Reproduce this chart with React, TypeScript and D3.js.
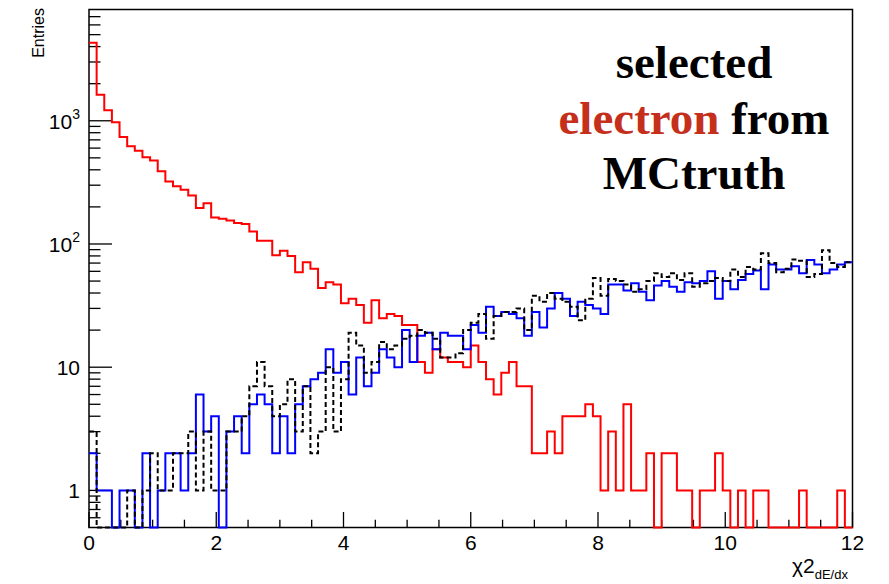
import React from "react";
import * as d3 from "d3";

// 100 bins of width 0.12 over 0..12
const binEdges: number[] = d3.range(101).map((i) => +(i * 0.12).toFixed(2));

// Red: selected electrons (MC truth electron)
const electronCounts: number[] = [
  4300, 1630, 1216, 971, 739, 621, 572, 505, 475, 389,
  322, 294, 276, 248, 196, 214, 164, 160, 155, 148,
  145, 126, 106, 106, 81, 88, 80, 59, 71, 63,
  44, 49, 47, 33, 36, 32, 23, 35, 25, 27,
  26, 22, 22, 11, 9, 14, 12, 11, 11, 10,
  15, 11, 8, 6, 9, 11, 7, 7, 2, 2,
  3, 2, 4, 4, 4, 5, 4, 1, 3, 1,
  5, 1, 1, 2, 0, 2, 2, 1, 1, 0,
  1, 1, 2, 1, 0, 1, 0, 1, 1, 0,
  0, 0, 0, 1, 0, 0, 0, 0, 1, 0,
];

// Blue
const blueCounts: number[] = [
  2, 1, 1, 0, 1, 1, 0, 2, 0, 1,
  2, 2, 1, 2, 6, 3, 4, 0, 3, 4,
  2, 5, 6, 5, 2, 4, 2, 5, 7, 8,
  9, 14, 9, 11, 6, 12, 7, 9, 14, 12,
  10, 20, 11, 18, 19, 14, 19, 18, 18, 14,
  22, 19, 31, 26, 28, 27, 25, 18, 28, 21,
  30, 40, 36, 26, 34, 32, 30, 27, 47, 47,
  42, 48, 41, 35, 46, 50, 45, 41, 49, 48,
  50, 60, 36, 50, 43, 51, 57, 61, 43, 68,
  62, 62, 66, 58, 74, 68, 58, 62, 68, 71,
];

// Black dashed
const blackCounts: number[] = [
  3, 0, 0, 0, 0, 1, 0, 1, 2, 1,
  1, 2, 2, 3, 1, 3, 1, 1, 3, 3,
  4, 7, 11, 7, 4, 5, 8, 3, 7, 2,
  3, 10, 3, 8, 19, 15, 9, 11, 16, 14,
  15, 17, 18, 20, 19, 17, 12, 12, 13, 20,
  23, 27, 17, 26, 28, 28, 30, 20, 38, 34,
  40, 36, 34, 31, 24, 36, 53, 38, 52, 50,
  47, 41, 43, 50, 58, 54, 58, 51, 58, 45,
  48, 50, 53, 50, 62, 54, 65, 62, 84, 70,
  59, 63, 75, 73, 54, 57, 89, 70, 65, 71,
];

const xTickLabels: number[] = [0, 2, 4, 6, 8, 10, 12];
const yMajorTicks: number[] = [1, 10, 100, 1000];

const FRAME = { left: 89, right: 852.5, top: 9.5, bottom: 527.5 };
const SANS = "'Liberation Sans', Arial, Helvetica, sans-serif";
const SERIF = "'Liberation Serif', 'Times New Roman', Times, serif";

export default function App() {
  const x = d3.scaleLinear().domain([0, 12]).range([FRAME.left, FRAME.right]);
  const y = d3.scaleLog().domain([0.5, 8000]).range([FRAME.bottom, FRAME.top]);
  const yv = (v: number) => y(Math.max(v, 0.5));

  const histPath = (vals: number[]) => {
    let d = `M${x(binEdges[0])},${yv(vals[0])}`;
    vals.forEach((v, i) => {
      d += `V${yv(v)}H${x(binEdges[i + 1])}`;
    });
    return d;
  };

  const xMinor = d3.range(0, 12.001, 0.5).filter((t) => Math.abs(t / 2 - Math.round(t / 2)) > 1e-6);
  const yMinor: number[] = [];
  [0.1, 1, 10, 100, 1000].forEach((dec) => {
    for (let k = 2; k <= 9; k++) {
      const v = k * dec;
      if (v > 0.5 && v < 8000) yMinor.push(v);
    }
  });

  const majorLenY = 23;
  const minorLenY = 11.5;
  const majorLenX = 15.5;
  const minorLenX = 7.8;

  return (
    <svg
      width={889}
      height={584}
      style={{ position: "absolute", left: 0, top: 0, background: "#fff" }}
    >
      <rect x={0} y={0} width={889} height={584} fill="#fff" />
      {/* frame */}
      <rect
        x={FRAME.left}
        y={FRAME.top}
        width={FRAME.right - FRAME.left}
        height={FRAME.bottom - FRAME.top}
        fill="none"
        stroke="#000"
        strokeWidth={1.5}
      />
      {/* x ticks */}
      {xTickLabels.map((t) => (
        <line key={"xM" + t} x1={x(t)} x2={x(t)} y1={FRAME.bottom} y2={FRAME.bottom - majorLenX} stroke="#000" strokeWidth={1.3} />
      ))}
      {xMinor.map((t) => (
        <line key={"xm" + t} x1={x(t)} x2={x(t)} y1={FRAME.bottom} y2={FRAME.bottom - minorLenX} stroke="#000" strokeWidth={1.3} />
      ))}
      {/* y ticks */}
      {yMajorTicks.map((t) => (
        <line key={"yM" + t} x1={FRAME.left} x2={FRAME.left + majorLenY} y1={y(t)} y2={y(t)} stroke="#000" strokeWidth={1.3} />
      ))}
      {yMinor.map((t) => (
        <line key={"ym" + t} x1={FRAME.left} x2={FRAME.left + minorLenY} y1={y(t)} y2={y(t)} stroke="#000" strokeWidth={1.3} />
      ))}
      {/* x tick labels */}
      {xTickLabels.map((t) => (
        <text key={"xl" + t} x={x(t)} y={FRAME.bottom + 22} textAnchor="middle" fontFamily={SANS} fontSize={21}>
          {t}
        </text>
      ))}
      {/* y tick labels */}
      {yMajorTicks.map((t) => {
        const exp = Math.round(Math.log10(t));
        if (exp < 2) {
          return (
            <text key={"yl" + t} x={80} y={y(t) + 8} textAnchor="end" fontFamily={SANS} fontSize={21}>
              {t}
            </text>
          );
        }
        return (
          <text key={"yl" + t} x={80} y={y(t) + 8} textAnchor="end" fontFamily={SANS} fontSize={21}>
            10
            <tspan fontSize={14} dy={-10}>
              {exp}
            </tspan>
          </text>
        );
      })}
      {/* axis titles */}
      <text
        transform="translate(44,8) rotate(-90)"
        textAnchor="end"
        fontFamily={SANS}
        fontSize={16}
      >
        Entries
      </text>
      <text x={792} y={573} fontFamily={SANS} fontSize={21}>
        χ2
        <tspan fontSize={13} dy={6}>
          dE/dx
        </tspan>
      </text>
      {/* histograms */}
      <path d={histPath(electronCounts)} fill="none" stroke="#ff0000" strokeWidth={2} />
      <path d={histPath(blueCounts)} fill="none" stroke="#0000ff" strokeWidth={2} />
      <path d={histPath(blackCounts)} fill="none" stroke="#000" strokeWidth={2} strokeDasharray="5,3" />
      {/* annotation */}
      <g fontFamily={SERIF} fontWeight="bold" fontSize={47} textAnchor="middle">
        <text x={694} y={78}>selected</text>
        <text x={694} y={134}>
          <tspan fill="#c4301c">electron</tspan>
          <tspan fill="#000"> from</tspan>
        </text>
        <text x={694} y={189}>MCtruth</text>
      </g>
    </svg>
  );
}
